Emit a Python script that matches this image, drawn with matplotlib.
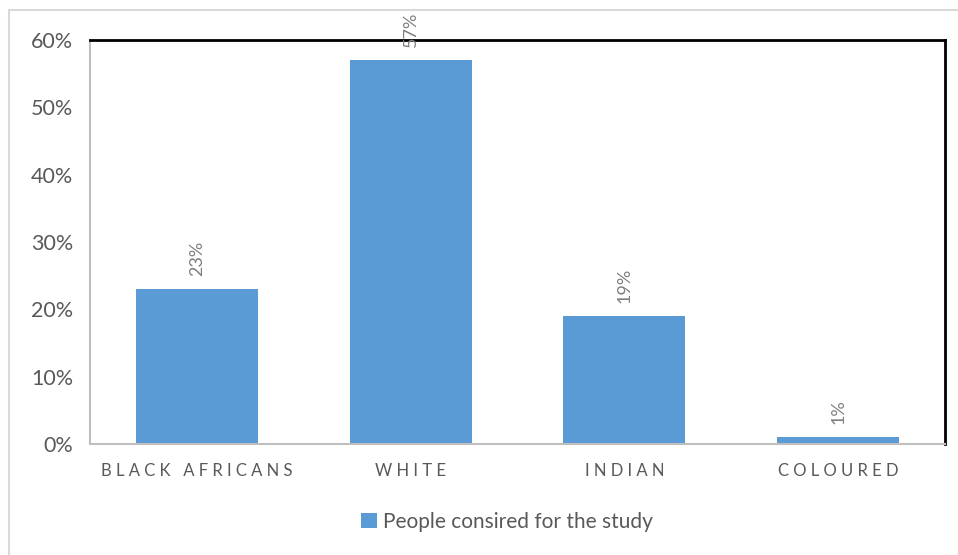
import matplotlib.pyplot as plt
from matplotlib.patches import Rectangle

categories = ["BLACK AFRICANS", "WHITE", "INDIAN", "COLOURED"]
values = [23, 57, 19, 1]
series_name = "People consired for the study"
yticks = [0, 10, 20, 30, 40, 50, 60]

plt.rcParams['font.family'] = ['Lato', 'DejaVu Sans']

fig = plt.figure(figsize=(9.58, 5.55), dpi=100)
# outer chart border
fig.patches.append(Rectangle((9 / 958, -0.01), 1.0, 1 - 10 / 555 + 0.01,
                             transform=fig.transFigure, fill=False,
                             edgecolor='#d9d9d9', linewidth=1.5))

ax = fig.add_axes([90 / 958, 1 - 444 / 555, 855 / 958, 404 / 555])
x = range(len(categories))
bars = ax.bar(x, values, width=0.57, color='#5B9BD5', label=series_name, zorder=2)

for xi, v in zip(x, values):
    ax.text(xi, v + 2.0, "%d%%" % v, rotation=90, ha='center', va='bottom',
            color='#7f7f7f', fontsize=13)

ax.set_xlim(-0.5, 3.5)
ax.set_ylim(0, 60)
ax.set_yticks(yticks)
ax.set_yticklabels(["%d%%" % t for t in yticks], fontsize=15.5, color='#595959')
ax.set_xticks(list(x))
ax.set_xticklabels([" ".join(c) for c in categories], fontsize=12, color='#595959')
ax.tick_params(axis='x', length=0, pad=14)
ax.tick_params(axis='y', length=0, pad=12)

ax.spines['left'].set_color('#bfbfbf')
ax.spines['bottom'].set_color('#bfbfbf')
ax.spines['left'].set_linewidth(1.5)
ax.spines['bottom'].set_linewidth(1.5)
ax.spines['top'].set_color('black')
ax.spines['right'].set_color('black')
ax.spines['top'].set_linewidth(2)
ax.spines['right'].set_linewidth(2)

fig.legend(loc='center', bbox_to_anchor=(507 / 958, 1 - 522 / 555), frameon=False,
           fontsize=15, labelcolor='#595959', handlelength=0.75, handleheight=0.75,
           handletextpad=0.3)

plt.savefig("out.png", dpi=100)
